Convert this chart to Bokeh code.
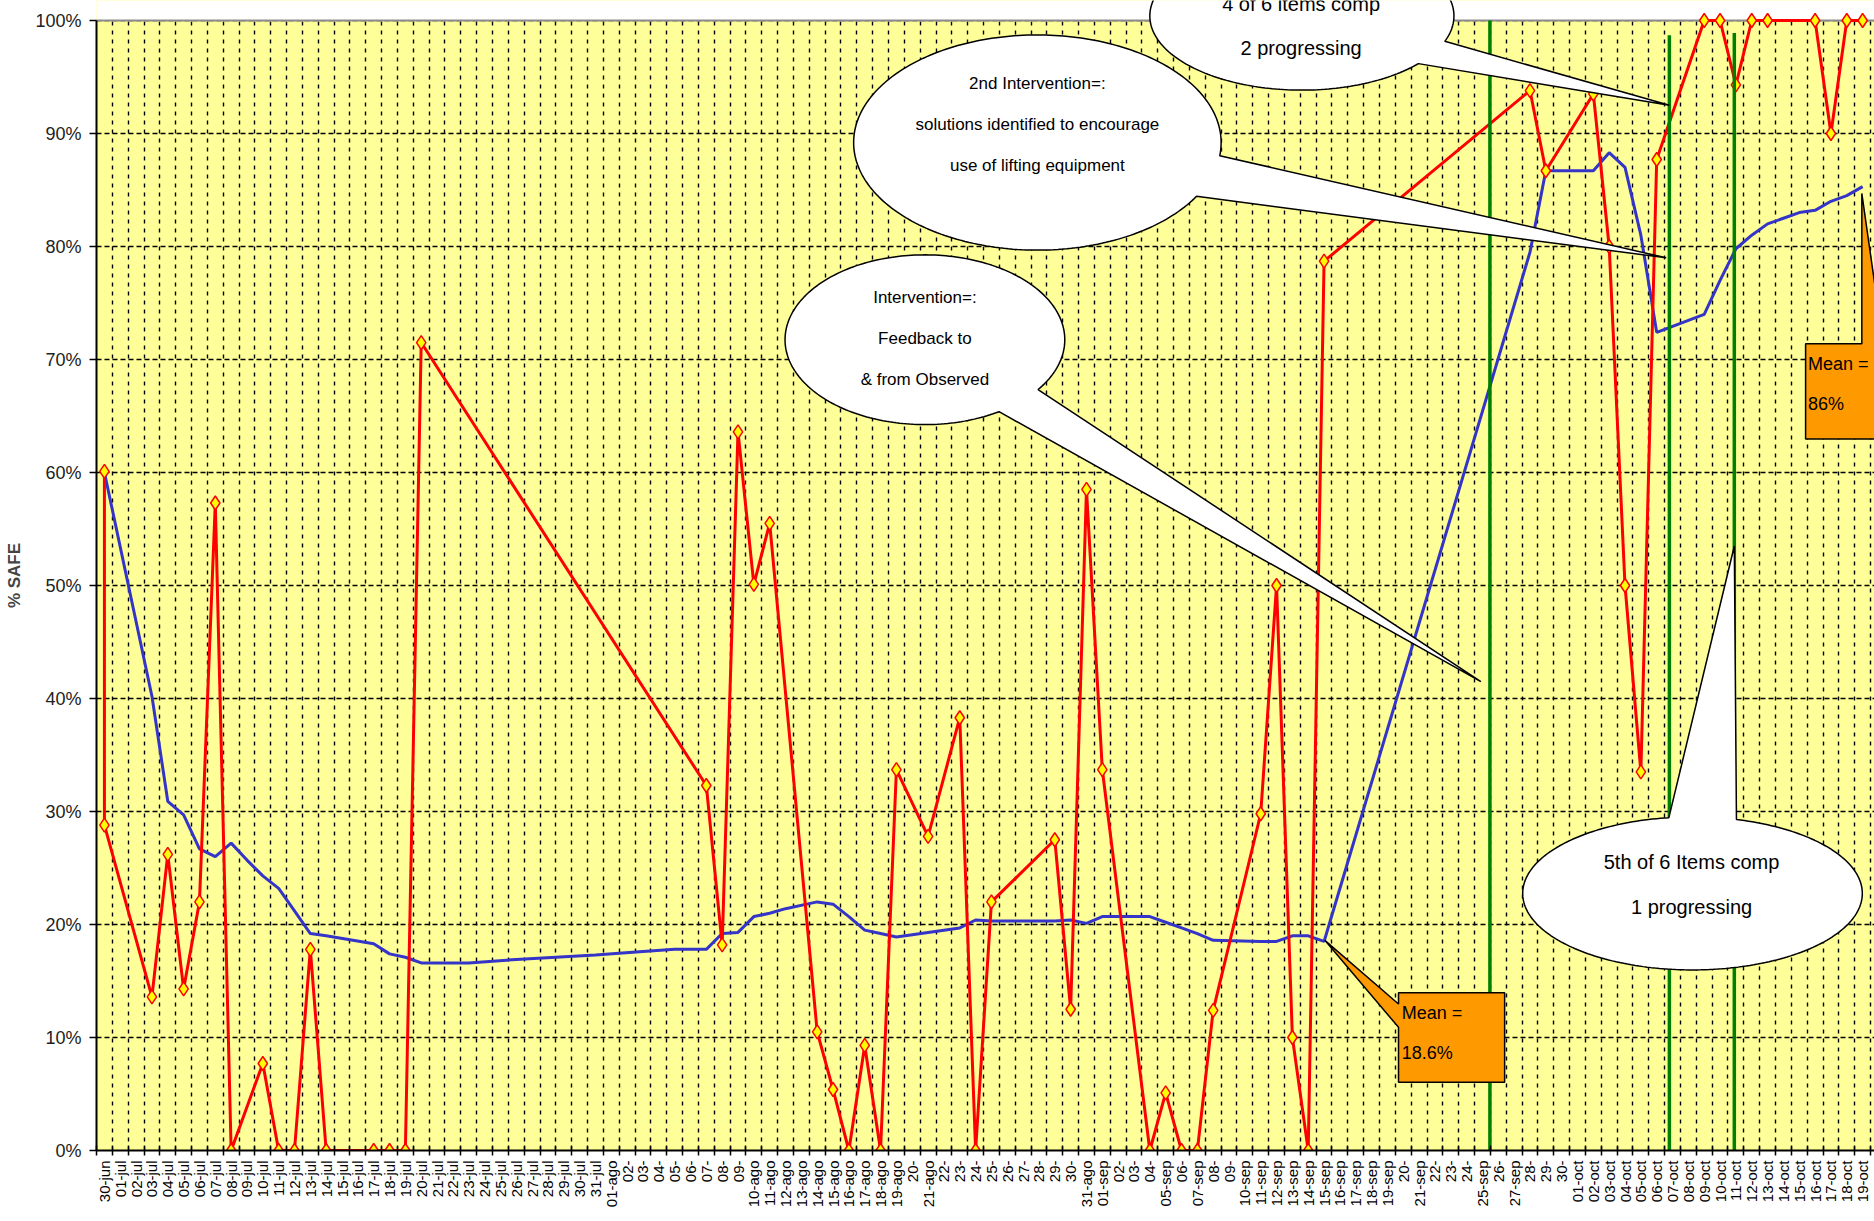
import numpy as np
from bokeh.plotting import figure
from bokeh.models import Range1d, FixedTicker, NumeralTickFormatter, BoxAnnotation, Span
from bokeh.core.properties import value
from bokeh.embed import file_html
from bokeh.resources import INLINE

# ---------------- data ----------------
tick_labels = [
    "30-jun",
    "01-jul", "02-jul", "03-jul", "04-jul", "05-jul", "06-jul", "07-jul", "08-jul", "09-jul", "10-jul",
    "11-jul", "12-jul", "13-jul", "14-jul", "15-jul", "16-jul", "17-jul", "18-jul", "19-jul", "20-jul",
    "21-jul", "22-jul", "23-jul", "24-jul", "25-jul", "26-jul", "27-jul", "28-jul", "29-jul", "30-jul", "31-jul",
    "01-ago", "02-", "03-", "04-", "05-", "06-", "07-", "08-", "09-", "10-ago",
    "11-ago", "12-ago", "13-ago", "14-ago", "15-ago", "16-ago", "17-ago", "18-ago", "19-ago", "20-",
    "21-ago", "22-", "23-", "24-", "25-", "26-", "27-", "28-", "29-", "30-", "31-ago",
    "01-sep", "02-", "03-", "04-", "05-sep", "06-", "07-sep", "08-", "09-", "10-sep",
    "11-sep", "12-sep", "13-sep", "14-sep", "15-sep", "16-sep", "17-sep", "18-sep", "19-sep", "20-",
    "21-sep", "22-", "23-", "24-", "25-sep", "26-", "27-sep", "28-", "29-", "30-",
    "01-oct", "02-oct", "03-oct", "04-oct", "05-oct", "06-oct", "07-oct", "08-oct", "09-oct", "10-oct",
    "11-oct", "12-oct", "13-oct", "14-oct", "15-oct", "16-oct", "17-oct", "18-oct", "19-oct",
]

# daily % safe (index into tick_labels)
red_day = [0, 0, 3, 4, 5, 6, 7, 8, 10, 11, 12, 13, 14, 17, 18, 19, 20,
           38, 39, 40, 41, 42, 45, 46, 47, 48, 49, 50, 52, 54, 55, 56,
           60, 61, 62, 63, 66, 67, 68, 69, 70, 73, 74, 75, 76, 77,
           90, 91, 94, 95, 96, 97, 98, 101, 102, 103, 104, 105, 108, 109, 110, 111]
red_pct = [60.1, 28.8, 13.6, 26.2, 14.3, 22.0, 57.3, 0, 7.7, 0, 0, 17.8, 0, 0, 0, 0, 71.5,
           32.3, 18.2, 63.6, 50.1, 55.5, 10.5, 5.4, 0, 9.3, 0, 33.7, 27.8, 38.3, 0, 22.0,
           27.5, 12.5, 58.5, 33.7, 0, 5.1, 0, 0, 12.4, 29.8, 50.0, 10.0, 0, 78.7,
           93.8, 86.7, 93.5, 80.0, 50.0, 33.5, 87.7, 100, 100, 94.3, 100, 100, 100, 90.0, 100, 100]

# running mean
blue_day = [0, 3, 4, 5, 6, 7, 8, 9, 10, 11, 12, 13, 14, 17, 18, 19, 20, 23, 26, 31, 34, 36,
            38, 39, 40, 41, 42, 43, 45, 46, 47, 48, 49, 50, 52, 54, 55, 56, 60, 61, 62, 63,
            66, 67, 68, 69, 70, 73, 74, 75, 76, 77, 90, 91, 94, 95, 96, 97, 98, 101, 102,
            103, 104, 105, 106, 107, 108, 109, 110, 111]
blue_pct = [60.0, 40.2, 30.9, 29.7, 26.7, 26.0, 27.2, 25.7, 24.3, 23.2, 21.2, 19.2, 19.0, 18.3, 17.4, 17.1, 16.6, 16.6, 16.9, 17.3, 17.6, 17.8,
            17.8, 19.2, 19.3, 20.7, 21.0, 21.4, 22.0, 21.8, 20.7, 19.5, 19.2, 18.9, 19.3, 19.7, 20.4, 20.3, 20.3, 20.4, 20.1, 20.7,
            20.7, 20.2, 19.7, 19.2, 18.6, 18.5, 18.5, 19.0, 19.0, 18.5, 79.5, 86.7, 86.7, 88.3, 87.0, 81.0, 72.4, 74.0, 77.0,
            79.8, 81.0, 82.0, 82.5, 83.0, 83.2, 84.0, 84.5, 85.3]

# vertical intervention markers (position in days, top in %)
green_day = [87.47, 98.8, 102.9]
green_top = [100.0, 98.7, 98.9]

# ---------------- figure ----------------
SANS = "Liberation Sans"
W, H = 1874, 1221
p = figure(width=W, height=H, output_backend="svg", toolbar_location=None,
           x_range=Range1d(-0.5, 111.75), y_range=Range1d(0, 1.0177),
           min_border_left=96, min_border_right=0, min_border_top=0, min_border_bottom=71)
p.background_fill_color = "#FFFF99"
p.border_fill_color = "white"
p.outline_line_color = None

# x axis
p.xaxis.ticker = FixedTicker(ticks=list(range(len(tick_labels))),
                             minor_ticks=[i - 0.5 for i in range(len(tick_labels) + 1)])
p.xaxis.major_label_overrides = {i: lab for i, lab in enumerate(tick_labels)}
p.xaxis.major_label_orientation = np.pi / 2
p.xaxis.major_tick_line_color = None
p.xaxis.minor_tick_line_color = "black"
p.xaxis.minor_tick_in = 5
p.xaxis.minor_tick_out = 5
p.xaxis.minor_tick_line_width = 1.5
p.xaxis.axis_line_color = "black"
p.xaxis.axis_line_width = 2
p.xaxis.major_label_standoff = 4
p.xaxis.major_label_text_font = SANS
p.xaxis.major_label_text_font_size = "15px"
p.xaxis.major_label_text_color = "black"

p.xgrid.grid_line_color = None
p.xgrid.minor_grid_line_color = "black"
p.xgrid.minor_grid_line_dash = "4 5"
p.xgrid.minor_grid_line_width = 1.4

# y axis
p.yaxis.ticker = FixedTicker(ticks=[0, 0.1, 0.2, 0.3, 0.4, 0.5, 0.6, 0.7, 0.8, 0.9, 1.0])
p.yaxis.formatter = NumeralTickFormatter(format="0%")
p.yaxis.bounds = (0, 1)
p.yaxis.major_tick_in = 0
p.yaxis.major_tick_out = 7
p.yaxis.major_tick_line_width = 1.5
p.yaxis.minor_tick_line_color = None
p.yaxis.axis_line_width = 2
p.yaxis.major_label_standoff = 8
p.yaxis.major_label_text_font = SANS
p.yaxis.major_label_text_font_size = "18px"
p.yaxis.major_label_text_color = "#222222"
p.yaxis.axis_label = "% SAFE"
p.yaxis.axis_label_text_font = SANS
p.yaxis.axis_label_text_font_style = "bold"
p.yaxis.axis_label_text_font_size = "17px"
p.yaxis.axis_label_standoff = 8

p.ygrid.grid_line_color = "black"
p.ygrid.grid_line_dash = "5 3"
p.ygrid.grid_line_width = 1.3

# white margin above 100% and grey top border
p.add_layout(BoxAnnotation(bottom=1.0, fill_color="white", fill_alpha=1.0,
                           line_color=None, level="underlay"))
p.add_layout(Span(location=1.0, dimension="width", line_color="#8c8c8c",
                  line_width=2, level="underlay"))

# ---------------- series ----------------
blue_y = [v / 100 for v in blue_pct]
red_y = [v / 100 for v in red_pct]
p.line(blue_day, blue_y, line_color="#3434C8", line_width=3)
p.line(red_day, red_y, line_color="#FF0000", line_width=3)
p.scatter(red_day, red_y, marker="diamond", size=14, fill_color="#FFFF00",
          line_color="#FF0000", line_width=1.5)

p.segment(x0=green_day, y0=[0] * len(green_day), x1=green_day,
          y1=[t / 100 for t in green_top], line_color="#008000", line_width=3.5)

# ---------------- callouts ----------------
def callout(cx, cy, rx, ry, a1, a2, tip):
    t = np.radians(np.linspace(a2, a1 + 360, 240))
    xs = list(cx + rx * np.cos(t)) + [tip[0]]
    ys = list(cy + ry * np.sin(t)) + [tip[1]]
    return xs, ys

callouts = [
    dict(c=(51.8, 0.7175, 8.83, 0.0751), a=(-58, -36), tip=(86.9, 0.415),
         text="Intervention=:\nFeedback to\n& from Observed", pos=(51.8, 0.7185), fs=17, lh=2.15),
    dict(c=(58.9, 0.892, 11.6, 0.0952), a=(-30, -7), tip=(98.6, 0.79),
         text="2nd Intervention=:\nsolutions identified to encourage\nuse of lifting equipment",
         pos=(58.9, 0.908), fs=17, lh=2.15),
    dict(c=(75.6, 1.004, 9.6, 0.0656), a=(-40, -20), tip=(98.8, 0.925),
         text="4 of 6 items comp\n2 progressing", pos=(75.55, 0.9947), fs=20, lh=2.0),
    dict(c=(100.26, 0.2275, 10.72, 0.0677), a=(75, 98), tip=(102.9, 0.535),
         text="5th of 6 Items comp\n1 progressing", pos=(100.2, 0.2354), fs=20, lh=2.05),
]
for c in callouts:
    xs, ys = callout(*c["c"], *c["a"], c["tip"])
    p.patch(xs, ys, fill_color="white", line_color="black", line_width=1.5)
    p.text(x=[c["pos"][0]], y=[c["pos"][1]], text=[c["text"]], text_align="center",
           text_baseline="middle", text_font=value(SANS), text_font_size=f"{c['fs']}px",
           text_line_height=c["lh"], text_color="black")

# mean boxes
mean_boxes = [
    dict(xs=[81.7, 81.7, 77.05, 81.7, 81.7, 88.4, 88.4],
         ys=[0.1397, 0.1296, 0.186, 0.109, 0.0603, 0.0603, 0.1397],
         text="Mean =\n18.6%", pos=(81.9, 0.1037)),
    dict(xs=[107.4, 110.95, 110.95, 112.3, 113.5, 113.5, 107.4],
         ys=[0.714, 0.714, 0.847, 0.714, 0.714, 0.6296, 0.6296],
         text="Mean =\n86%", pos=(107.55, 0.678)),
]
for b in mean_boxes:
    p.patch(b["xs"], b["ys"], fill_color="#FF9900", line_color="black", line_width=1.5)
    p.text(x=[b["pos"][0]], y=[b["pos"][1]], text=[b["text"]], text_align="left",
           text_baseline="middle", text_font=value(SANS), text_font_size="18px",
           text_line_height=2.0, text_color="black")

open("out.html", "w").write(file_html(p, INLINE))
